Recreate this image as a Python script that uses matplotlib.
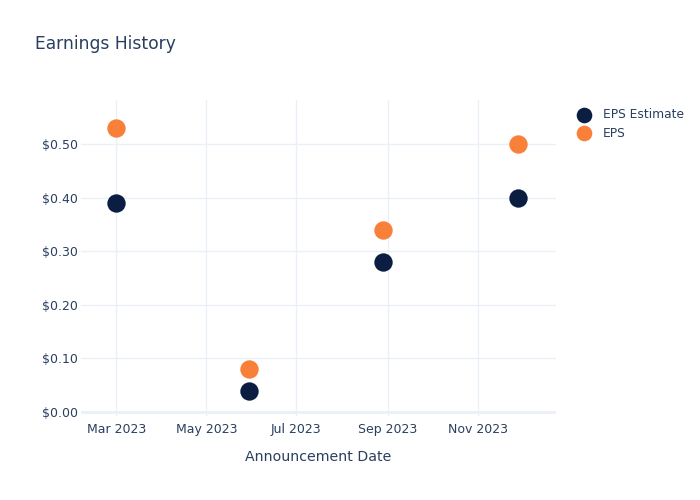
import matplotlib
matplotlib.use("Agg")
import matplotlib.pyplot as plt
import matplotlib.dates as mdates
import numpy as np
import datetime as dt

dates = ["2023-03-01", "2023-05-30", "2023-08-29", "2023-11-28"]
eps_estimate = [0.39, 0.04, 0.28, 0.40]
eps_actual = [0.53, 0.08, 0.34, 0.50]
tick_dates = ["2023-03-01", "2023-05-01", "2023-07-01", "2023-09-01", "2023-11-01"]
tick_labels = ["Mar 2023", "May 2023", "Jul 2023", "Sep 2023", "Nov 2023"]
y_ticks = [0.0, 0.1, 0.2, 0.3, 0.4, 0.5]

TEXT = "#2a3f5f"
GRID = "#ebf0f8"
NAVY = "#0b1e42"
ORANGE = "#f98038"

plt.rcParams['font.family'] = ['DejaVu Sans']

fig = plt.figure(figsize=(7, 5), dpi=100)
ax = fig.add_axes([81/700, 1 - 416/500, (556-81)/700, (416-100)/500])

x = [dt.datetime.strptime(d, "%Y-%m-%d") for d in dates]
ax.scatter(x, eps_estimate, s=175, color=NAVY, label="EPS Estimate", zorder=3, linewidths=0)
ax.scatter(x, eps_actual, s=175, color=ORANGE, label="EPS", zorder=3, linewidths=0)

ax.set_xlim(dt.datetime(2023, 2, 5), dt.datetime(2023, 12, 24))
ax.set_ylim(-0.0075, 0.582)

ax.set_xticks([dt.datetime.strptime(d, "%Y-%m-%d") for d in tick_dates])
ax.set_xticklabels(tick_labels)
ax.set_yticks(y_ticks)
ax.set_yticklabels([f"${v:.2f}" for v in y_ticks])

for s in ax.spines.values():
    s.set_visible(False)
ax.grid(True, color=GRID, linewidth=1, zorder=0)
ax.axhline(0, color=GRID, linewidth=2, zorder=1)
ax.tick_params(axis='both', length=0, labelsize=9, labelcolor=TEXT)
ax.tick_params(axis='x', pad=5)
ax.tick_params(axis='y', pad=2)
ax.set_axisbelow(True)

ax.set_xlabel("Announcement Date", fontsize=10.2, color=TEXT, labelpad=10)
fig.text(35/700, 1 - 44/500, "Earnings History", fontsize=12.3, color=TEXT, va='center', ha='left')

leg = ax.legend(loc='upper left', bbox_to_anchor=(1.022, 0.99), frameon=False,
                fontsize=8.8, labelcolor=TEXT, handletextpad=0.6, borderaxespad=0,
                labelspacing=0.45, markerscale=0.85)

fig.savefig("out.png", dpi=100)
